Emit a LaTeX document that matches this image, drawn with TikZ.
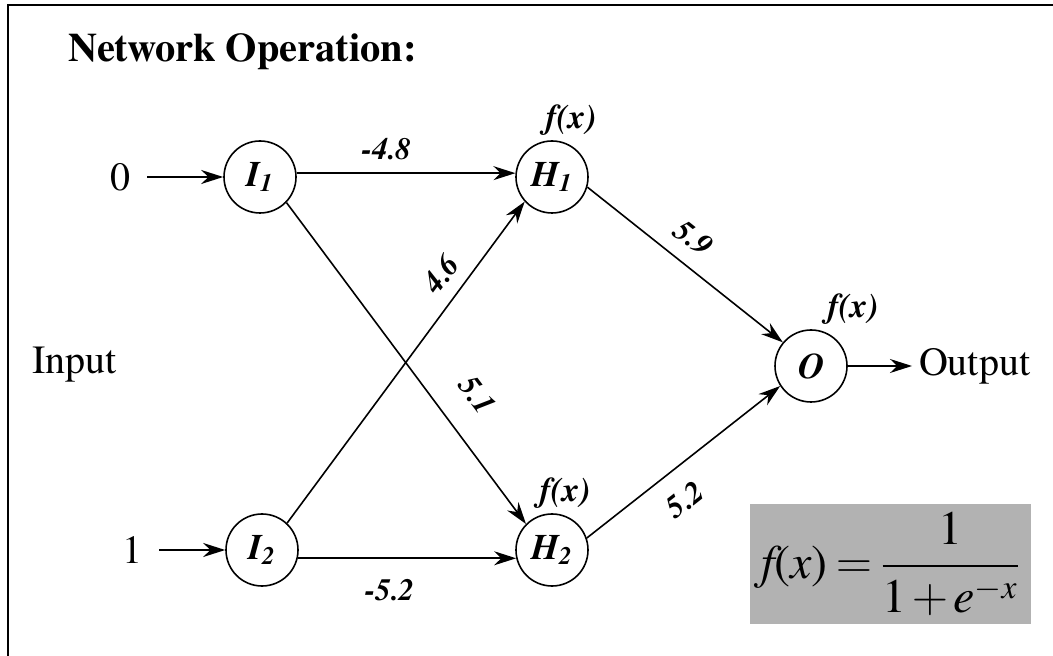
\documentclass[tikz,border=0pt]{standalone}
\usepackage{fontspec}
\setmainfont{texgyretermes}[
  Extension=.otf,
  UprightFont=*-regular,
  BoldFont=*-bold,
  ItalicFont=*-italic,
  BoldItalicFont=*-bolditalic]
\usepackage{amsmath}
\usetikzlibrary{arrows.meta,positioning}
\definecolor{sigfill}{HTML}{B2B2B2}
\newcommand{\tit}[1]{\text{\itshape #1}}

\begin{document}
\begin{tikzpicture}[
  x=0.5pt, y=-0.5pt,
  every node/.style={font=\fontsize{20}{24}\selectfont},
  neuron/.style={
    draw,
    circle,
    line width=0.8pt,
    minimum size=36pt,
    inner sep=0pt,
    font=\fontsize{18}{21}\selectfont\bfseries\itshape
  },
  weight/.style={font=\fontsize{15.5}{18}\selectfont\bfseries\itshape, sloped},
  act/.style={font=\fontsize{17}{20}\selectfont\bfseries\itshape},
  arrow/.style={-{Stealth[length=11pt,width=7pt]}, line width=0.8pt},
  frame/.style={line width=1pt}
]
\useasboundingbox (0,0) rectangle (1053,656);
\draw[frame] (8,656) -- (8,5) -- (1053,5);
\node[anchor=base west, inner sep=0pt, font=\fontsize{20.2}{24}\selectfont\bfseries] (title) at (68,62) {Network Operation:};
\node[neuron] (I1) at (260,177) {I\textsubscript{1}};
\node[neuron] (I2) at (262,550) {I\textsubscript{2}};
\node[neuron] (H1) at (552,177) {H\textsubscript{1}};
\node[neuron] (H2) at (552,550) {H\textsubscript{2}};
\node[neuron] (O) at (811,366) {O};
\node (zero) at (120,177) {0};
\node (one) at (132,550) {1};
\node[anchor=base west, inner sep=0pt] (input) at (32,374) {Input};
\node[anchor=west] (output) at (912,366) {Output};
\node[act, above=-1pt of H1, xshift=9.5pt] (fH1) {f(x)};
\node[act, above=-1pt of H2, xshift=6.5pt] (fH2) {f(x)};
\node[act, above=-1pt of O, xshift=21pt] (fO) {f(x)};
\node[fill=sigfill, minimum width=140.5pt, minimum height=60pt, inner sep=0pt,
  font=\fontsize{24}{28}\selectfont] (sig) at (890.5,564)
  {$\thickmuskip=3mu \medmuskip=2mu
   \tit{f}\text{(}\tit{x}\text{)} = \dfrac{\text{1}}{\text{1} + \tit{e}^{-\tit{x}}}$};
\draw[arrow, shorten <=5pt] (zero) -- (I1);
\draw[arrow, shorten <=5pt] (one) -- (I2);
\draw[arrow] (I1.6) -- node[weight, above=3pt, pos=0.41] {-4.8} (H1.174);
\draw[arrow] (I1.-44) -- node[weight, above=10pt, pos=0.67] {5.1} (H2.135);
\draw[arrow] (I2.47) -- node[weight, above=3pt, pos=0.73] {4.6} (H1.-138);
\draw[arrow] (I2.-13) -- node[weight, below=7pt, pos=0.42] {-5.2} (H2.193);
\draw[arrow] (H1.-16) -- node[weight, above=4pt, pos=0.46] {5.9} (O.140);
\draw[arrow] (H2.19) -- node[weight, below=6pt, pos=0.41] {5.2} (O.213);
\draw[arrow] (O) -- (output);
\end{tikzpicture}
\end{document}
